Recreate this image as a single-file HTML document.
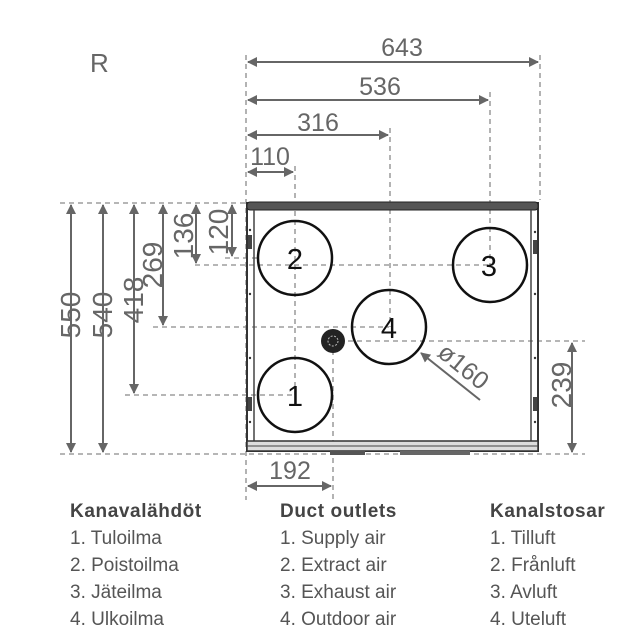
<!DOCTYPE html>
<html><head><meta charset="utf-8"><style>
html,body{margin:0;padding:0;background:#fff;}
svg{display:block;}
.d{stroke:#8a8a8a;stroke-width:1.3;stroke-dasharray:5,4;fill:none}
.a{stroke:#666;stroke-width:2;fill:none}
.n{font-family:"Liberation Sans",sans-serif;font-size:25px;fill:#666}
.v{font-family:"Liberation Sans",sans-serif;font-size:28px;fill:#666}
.t{font-family:"Liberation Sans",sans-serif;font-size:19px;fill:#555}
.h{font-weight:bold;fill:#444;letter-spacing:0.6px}
</style></head><body>
<svg width="640" height="640" viewBox="0 0 640 640" xmlns="http://www.w3.org/2000/svg">
<defs>
<marker id="m" viewBox="0 0 10 10" refX="9" refY="5" markerWidth="5" markerHeight="5" orient="auto-start-reverse"><path d="M0,0 L10,5 L0,10 z" fill="#666"/></marker>
</defs>
<text x="90" y="72" class="n" style="font-size:26px">R</text>
<line x1="246" y1="55" x2="246" y2="500" class="d"/>
<line x1="540" y1="55" x2="540" y2="200" class="d"/>
<line x1="490" y1="92" x2="490" y2="265" class="d"/>
<line x1="390" y1="128" x2="390" y2="327" class="d"/>
<line x1="295" y1="166" x2="295" y2="395" class="d"/>
<line x1="333" y1="341" x2="333" y2="500" class="d"/>
<line x1="60" y1="203" x2="250" y2="203" class="d"/>
<line x1="60" y1="454" x2="585" y2="454" class="d"/>
<line x1="225" y1="258" x2="260" y2="258" class="d"/>
<line x1="195" y1="265" x2="489" y2="265" class="d"/>
<line x1="153" y1="327" x2="389" y2="327" class="d"/>
<line x1="330" y1="341" x2="585" y2="341" class="d"/>
<line x1="125" y1="395" x2="295" y2="395" class="d"/>
<line x1="248" y1="62" x2="538" y2="62" class="a" marker-start="url(#m)" marker-end="url(#m)"/>
<text x="402" y="56" class="n" text-anchor="middle">643</text>
<line x1="248" y1="100" x2="488" y2="100" class="a" marker-start="url(#m)" marker-end="url(#m)"/>
<text x="380" y="95" class="n" text-anchor="middle">536</text>
<line x1="248" y1="135" x2="388" y2="135" class="a" marker-start="url(#m)" marker-end="url(#m)"/>
<text x="318" y="131" class="n" text-anchor="middle">316</text>
<line x1="248" y1="172" x2="293" y2="172" class="a" marker-start="url(#m)" marker-end="url(#m)"/>
<text x="270" y="165" class="n" text-anchor="middle">110</text>
<line x1="71" y1="205" x2="71" y2="452" class="a" marker-start="url(#m)" marker-end="url(#m)"/>
<text transform="translate(80,315) rotate(-90)" class="v" text-anchor="middle">550</text>
<line x1="103" y1="205" x2="103" y2="452" class="a" marker-start="url(#m)" marker-end="url(#m)"/>
<text transform="translate(112,315) rotate(-90)" class="v" text-anchor="middle">540</text>
<line x1="134" y1="205" x2="134" y2="393" class="a" marker-start="url(#m)" marker-end="url(#m)"/>
<text transform="translate(143,300) rotate(-90)" class="v" text-anchor="middle">418</text>
<line x1="163" y1="205" x2="163" y2="325" class="a" marker-start="url(#m)" marker-end="url(#m)"/>
<text transform="translate(162,265) rotate(-90)" class="v" text-anchor="middle">269</text>
<line x1="196" y1="205" x2="196" y2="263" class="a" marker-start="url(#m)" marker-end="url(#m)"/>
<text transform="translate(193,236) rotate(-90)" class="v" text-anchor="middle">136</text>
<line x1="232" y1="205" x2="232" y2="256" class="a" marker-start="url(#m)" marker-end="url(#m)"/>
<text transform="translate(228,232) rotate(-90)" class="v" text-anchor="middle">120</text>
<line x1="572" y1="343" x2="572" y2="452" class="a" marker-start="url(#m)" marker-end="url(#m)"/>
<text transform="translate(571,385) rotate(-90)" class="v" text-anchor="middle">239</text>
<line x1="248" y1="486" x2="331" y2="486" class="a" marker-start="url(#m)" marker-end="url(#m)"/>
<text x="290" y="479" class="n" text-anchor="middle">192</text>
<rect x="247" y="203" width="291" height="248" fill="none" stroke="#333" stroke-width="2"/>
<rect x="247" y="202" width="291" height="8" rx="3" fill="#555" stroke="#222" stroke-width="1"/>
<line x1="254" y1="210" x2="254" y2="442" stroke="#444" stroke-width="1.5"/>
<line x1="531" y1="210" x2="531" y2="442" stroke="#444" stroke-width="1.5"/>
<rect x="247" y="441" width="291" height="10" fill="#ddd" stroke="#333" stroke-width="1.5"/>
<line x1="247" y1="446" x2="538" y2="446" stroke="#444" stroke-width="1"/>
<rect x="330" y="451" width="35" height="4" fill="#555"/>
<rect x="400" y="451" width="70" height="4" fill="#666"/>
<rect x="248" y="235" width="4" height="14" fill="#444"/>
<rect x="248" y="397" width="4" height="14" fill="#444"/>
<rect x="533" y="240" width="4" height="14" fill="#444"/>
<rect x="533" y="397" width="4" height="14" fill="#444"/>
<g fill="#333"><circle cx="250" cy="230" r="1.2"/><circle cx="250" cy="294" r="1.2"/><circle cx="250" cy="358" r="1.2"/><circle cx="250" cy="422" r="1.2"/>
<circle cx="535" cy="232" r="1.2"/><circle cx="535" cy="294" r="1.2"/><circle cx="535" cy="358" r="1.2"/><circle cx="535" cy="422" r="1.2"/></g>
<g fill="none" stroke="#111" stroke-width="2.5">
<circle cx="295" cy="258" r="37"/><circle cx="490" cy="265" r="37"/>
<circle cx="389" cy="327" r="37"/><circle cx="295" cy="395" r="37"/></g>
<circle cx="333" cy="341" r="12" fill="#222"/>
<circle cx="333" cy="341" r="5" fill="none" stroke="#bbb" stroke-width="1" stroke-dasharray="2,1.5"/>
<g font-family="Liberation Sans,sans-serif" font-size="29" fill="#111" text-anchor="middle">
<text x="295" y="269">2</text><text x="489" y="276">3</text><text x="389" y="338">4</text><text x="295" y="406">1</text></g>
<line x1="480" y1="400" x2="421" y2="353" class="a" marker-end="url(#m)"/>
<text transform="translate(436,355) rotate(39)" class="n">ø160</text>
<text x="70" y="517" class="t h">Kanavalähdöt</text>
<text x="70" y="544" class="t">1. Tuloilma</text>
<text x="70" y="571" class="t">2. Poistoilma</text>
<text x="70" y="598" class="t">3. Jäteilma</text>
<text x="70" y="625" class="t">4. Ulkoilma</text>
<text x="280" y="517" class="t h">Duct outlets</text>
<text x="280" y="544" class="t">1. Supply air</text>
<text x="280" y="571" class="t">2. Extract air</text>
<text x="280" y="598" class="t">3. Exhaust air</text>
<text x="280" y="625" class="t">4. Outdoor air</text>
<text x="490" y="517" class="t h">Kanalstosar</text>
<text x="490" y="544" class="t">1. Tilluft</text>
<text x="490" y="571" class="t">2. Frånluft</text>
<text x="490" y="598" class="t">3. Avluft</text>
<text x="490" y="625" class="t">4. Uteluft</text>
</svg>
</body></html>
